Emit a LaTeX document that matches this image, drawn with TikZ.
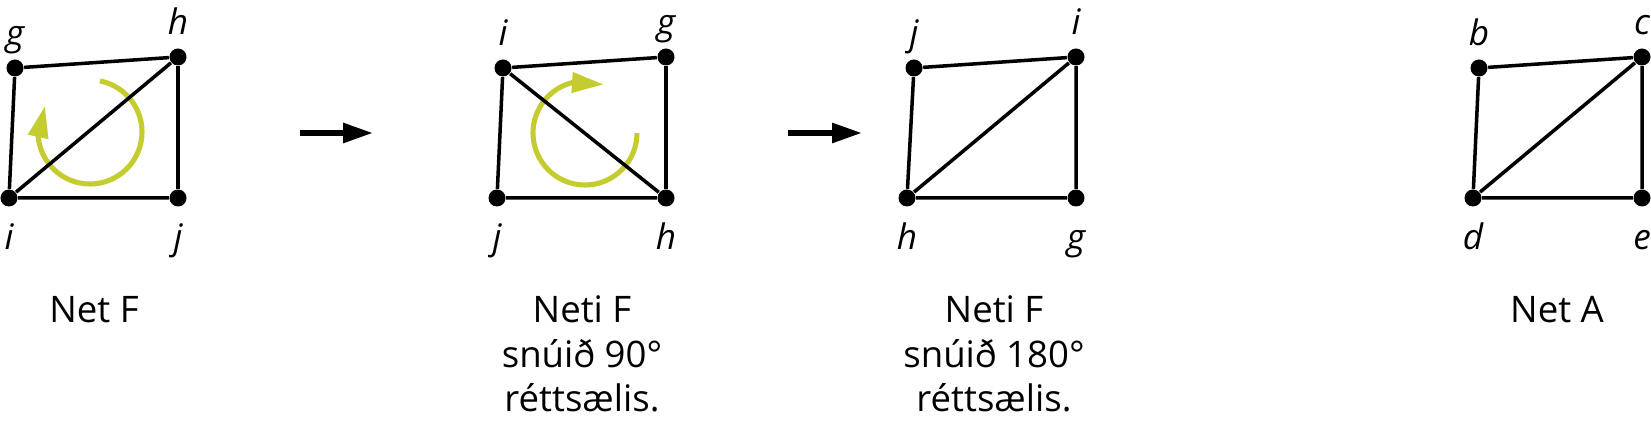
\documentclass[tikz,border=0pt]{standalone}
\usepackage{fontspec}
\setmainfont{Open Sans}
\usetikzlibrary{arrows.meta,bending}
\definecolor{turnyellow}{RGB}{196,204,48}
\tikzset{
    lbl/.style={font=\fontsize{10}{12}\selectfont\itshape,inner sep=0pt,text height=0.75em,text depth=0.25em},
    labup/.style={label={[lbl,label distance=0.37mm]above:#1}},
    labdn/.style={label={[lbl,label distance=1.55mm]below:#1}}
}

\begin{document}
\begin{tikzpicture}[x=0.01cm,y=0.01cm]
    \tikzstyle{dot}=[circle,fill,inner sep=0pt,minimum size=1.7mm]
    \tikzstyle{edge}=[line width=1pt]
    \tikzstyle{turn}=[turnyellow,line width=1.45pt,-{Triangle[length=9pt,width=5.6pt]}]
    \tikzstyle{move}=[line width=1.6pt,-{Triangle[length=8.5pt,width=5.4pt]}]
    \tikzstyle{netcaption}=[font=\fontsize{10.4}{12.7}\selectfont,align=center,anchor=base,inner sep=0pt]
    \useasboundingbox (0,0) rectangle (1651,-428);

    % turning arrows (under the edges)
    \coordinate (turnF) at (90,-132);
    \coordinate (turnR) at (585,-133);
    \draw[turn] ([shift={(79:52)}]turnF) arc[start angle=79, end angle=-210, radius=52];
    \draw[turn] ([shift={(0:52)}]turnR) arc[start angle=0, end angle=-291, radius=52];

    % Net F
    \node[dot, labup=g] (Fg) at (15,-68) {};
    \node[dot, labup=h] (Fh) at (178,-57) {};
    \node[dot, labdn=i] (Fi) at (9,-198) {};
    \node[dot, labdn=j] (Fj) at (178,-198) {};
    \draw[edge] (Fg) -- (Fh) -- (Fj) -- (Fi) -- (Fg);
    \draw[edge] (Fi) -- (Fh);
    \node[netcaption] (capF) at (94,-323) {Net F};

    % turned 90
    \node[dot, labup=i] (Ri) at (503,-68) {};
    \node[dot, labup=g] (Rg) at (666,-57) {};
    \node[dot, labdn=j] (Rj) at (497,-198) {};
    \node[dot, labdn=h] (Rh) at (666,-198) {};
    \draw[edge] (Ri) -- (Rg) -- (Rh) -- (Rj) -- (Ri);
    \draw[edge] (Ri) -- (Rh);
    \node[netcaption] (capR) at (582,-412) {Neti F\\snúið 90°\\réttsælis.};

    % turned 180
    \node[dot, labup=j] (Sj) at (914,-68) {};
    \node[dot, labup=i] (Si) at (1076,-57) {};
    \node[dot, labdn=h] (Sh) at (907,-198) {};
    \node[dot, labdn=g] (Sg) at (1076,-198) {};
    \draw[edge] (Sj) -- (Si) -- (Sg) -- (Sh) -- (Sj);
    \draw[edge] (Sh) -- (Si);
    \node[netcaption] (capS) at (994,-412) {Neti F\\snúið 180°\\réttsælis.};

    % Net A
    \node[dot, labup=b] (Ab) at (1479,-68) {};
    \node[dot, labup=c] (Ac) at (1642,-57) {};
    \node[dot, labdn=d] (Ad) at (1473,-198) {};
    \node[dot, labdn=e] (Ae) at (1642,-198) {};
    \draw[edge] (Ab) -- (Ac) -- (Ae) -- (Ad) -- (Ab);
    \draw[edge] (Ad) -- (Ac);
    \node[netcaption] (capA) at (1557,-323) {Net A};

    % steps
    \coordinate (moveA) at (300,-133);
    \coordinate (moveB) at (373,-133);
    \coordinate (moveC) at (788,-133);
    \coordinate (moveD) at (862,-133);
    \draw[move] (moveA) -- (moveB);
    \draw[move] (moveC) -- (moveD);
\end{tikzpicture}
\end{document}
